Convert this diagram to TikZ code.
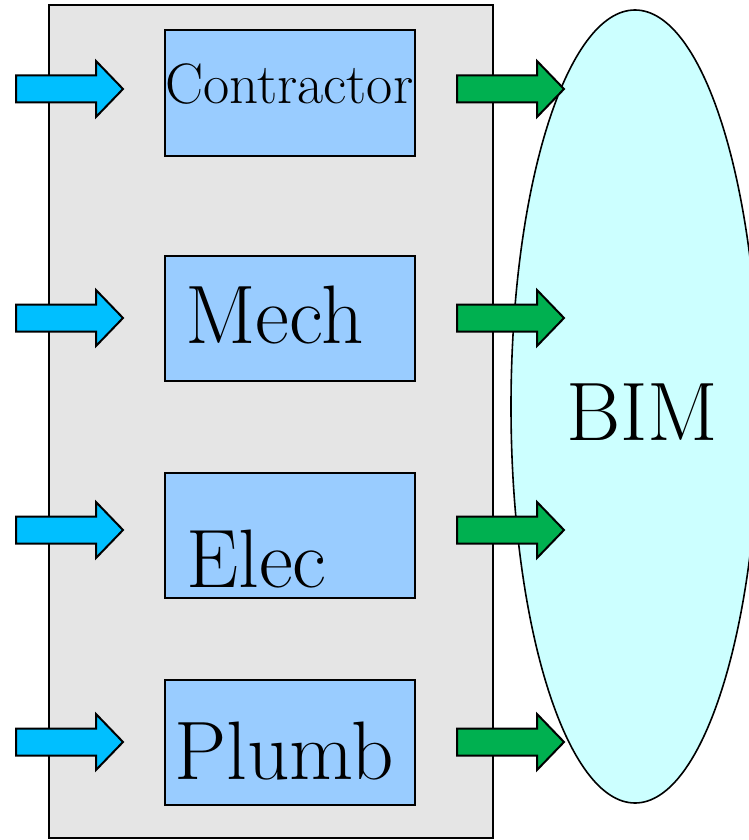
\documentclass[tikz,border=0pt]{standalone}
\usepackage{fontspec}
\definecolor{bmpanel}{RGB}{229,229,229}
\definecolor{bmbox}{RGB}{153,204,255}
\definecolor{bmbim}{RGB}{204,255,255}
\definecolor{bmin}{RGB}{0,191,255}
\definecolor{bmout}{RGB}{0,176,80}
\usetikzlibrary{shapes.geometric}

\begin{document}
\begin{tikzpicture}[x=1pt, y=-1pt,
  panel/.style={rectangle, draw=black, line width=2pt, fill=bmpanel,
                inner sep=0pt, outer sep=0pt},
  trade/.style={rectangle, draw=black, line width=2pt, fill=bmbox,
                minimum width=250pt, minimum height=125pt,
                inner sep=0pt, outer sep=0pt},
  model/.style={ellipse, draw=black, line width=1.6pt, fill=bmbim,
                minimum width=248pt, minimum height=793pt,
                inner sep=0pt, outer sep=0pt},
  big/.style={anchor=base west, inner sep=0pt, font=\fontsize{83}{100}\selectfont},
  inarrow/.style={draw=black, line width=2pt, line join=miter, fill=bmin},
  outarrow/.style={draw=black, line width=2pt, line join=miter, fill=bmout}
]
\useasboundingbox (0,0) rectangle (749,840);
\clip (0,0) rectangle (749,840);

\node[panel, minimum width=444pt, minimum height=833pt] (panel) at (271,421.5) {};
\node[model] (bim) at (635,406.5) {};

\node[trade] (contractor) at (290,93)    {};
\node[trade] (mech)       at (290,318)   {};
\node[trade] (elec)       at (290,535)   {};
\node[trade] (plumb)      at (290,742.5) {};

% arrows in and out
\foreach \y in {89,318,530,742} {
  \draw[inarrow] (16,\y-13.5) -- (96,\y-13.5) -- (96,\y-28) -- (123,\y)
    -- (96,\y+28) -- (96,\y+13.5) -- (16,\y+13.5) -- cycle;
  \draw[outarrow] (457,\y-13.5) -- (537,\y-13.5) -- (537,\y-28) -- (564,\y)
    -- (537,\y+28) -- (537,\y+13.5) -- (457,\y+13.5) -- cycle;
}

\node[big, font=\fontsize{57}{68}\selectfont] (tcontractor) at (165,103) {Contractor};
\node[big] (tmech)  at (185,343) {Mech};
\node[big] (telec)  at (186,587) {Elec};
\node[big] (tplumb) at (174,779) {Plumb};
\node[big] (tbim)   at (566,440) {BIM};
\end{tikzpicture}
\end{document}
